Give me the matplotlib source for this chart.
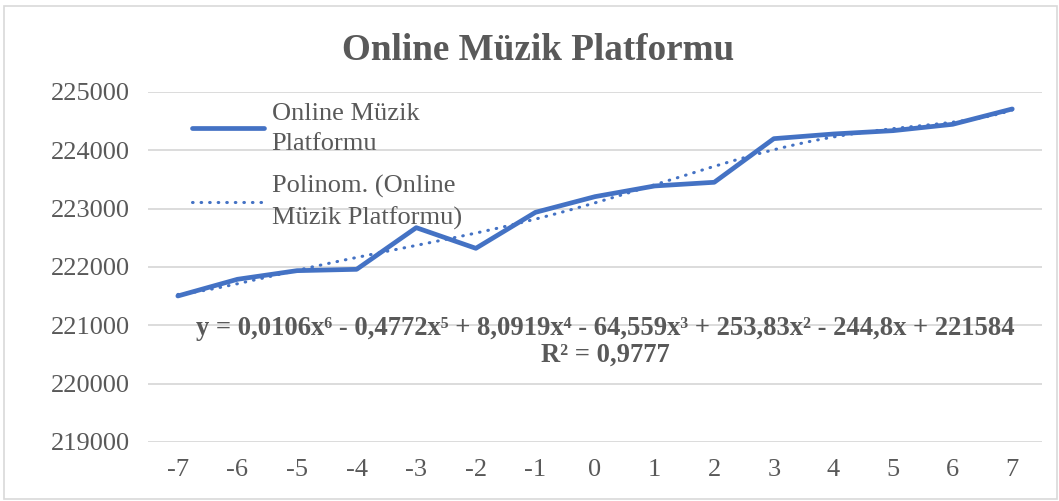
import numpy as np
import matplotlib.pyplot as plt
from matplotlib.patches import Rectangle

# veriler
kategoriler = [-7, -6, -5, -4, -3, -2, -1, 0, 1, 2, 3, 4, 5, 6, 7]
degerler = [221503, 221789, 221937, 221960, 222674, 222320, 222937, 223206,
            223389, 223452, 224200, 224280, 224337, 224446, 224709]
y_ticks = [219000, 220000, 221000, 222000, 223000, 224000, 225000]

renk = '#4472C4'
gri = '#595959'
plt.rcParams['font.family'] = ['Liberation Serif', 'DejaVu Serif']
plt.rcParams['axes.unicode_minus'] = False

fig = plt.figure(figsize=(10.59, 5.01), dpi=100)
ax = fig.add_axes([0.1398, 0.1178, 0.8442, 0.6986])

x = np.array(kategoriler)
y = np.array(degerler)
ax.plot(x, y, color=renk, lw=3.4, solid_joinstyle='round', solid_capstyle='round',
        label='Online Müzik\nPlatformu', zorder=3)

# Excel polinom eğilim çizgisi (6. derece, x = 1..15)
idx = np.arange(1, len(y) + 1)
katsayi = np.polyfit(idx, y, 6)
xs = np.linspace(1, len(y), 300)
ax.plot(xs - 8, np.polyval(katsayi, xs), color=renk, lw=2.2,
        linestyle=(0, (0.2, 2.6)), dash_capstyle='round',
        label='Polinom. (Online\nMüzik Platformu)', zorder=2)

ax.set_xlim(-7.5, 7.5)
ax.set_ylim(219000, 225000)
ax.set_xticks(kategoriler)
ax.set_yticks(y_ticks)
ax.tick_params(length=0, labelsize=19, colors=gri, pad=12)
ax.tick_params(axis='y', pad=13)
ax.grid(axis='y', color='#D9D9D9', lw=1.3)
ax.set_axisbelow(True)
for s in ax.spines.values():
    s.set_visible(False)

fig.text(0.508, 0.9, 'Online Müzik Platformu', ha='center', va='center',
         fontsize=26.7, fontweight='bold', color=gri)

ax.text(0.512, 0.323, 'y = 0,0106x⁶ - 0,4772x⁵ + 8,0919x⁴ - 64,559x³ + 253,83x² - 244,8x + 221584',
        transform=ax.transAxes, ha='center', va='center', fontsize=19.2,
        fontweight='bold', color=gri)
ax.text(0.512, 0.248, 'R² = 0,9777', transform=ax.transAxes, ha='center', va='center',
        fontsize=19.2, fontweight='bold', color=gri)

leg = ax.legend(loc='upper left', bbox_to_anchor=(0.032, 1.015), frameon=False,
                fontsize=19, handlelength=2.7, handletextpad=0.3, labelspacing=0.75,
                borderaxespad=0.2)
for t in leg.get_texts():
    t.set_color(gri)
    t.set_linespacing(1.5)

fig.patches.append(Rectangle((0.004, 0.004), 0.994, 0.984, transform=fig.transFigure,
                             fill=False, edgecolor='#D9D9D9', lw=1.2))

fig.savefig('out.png', dpi=100)
